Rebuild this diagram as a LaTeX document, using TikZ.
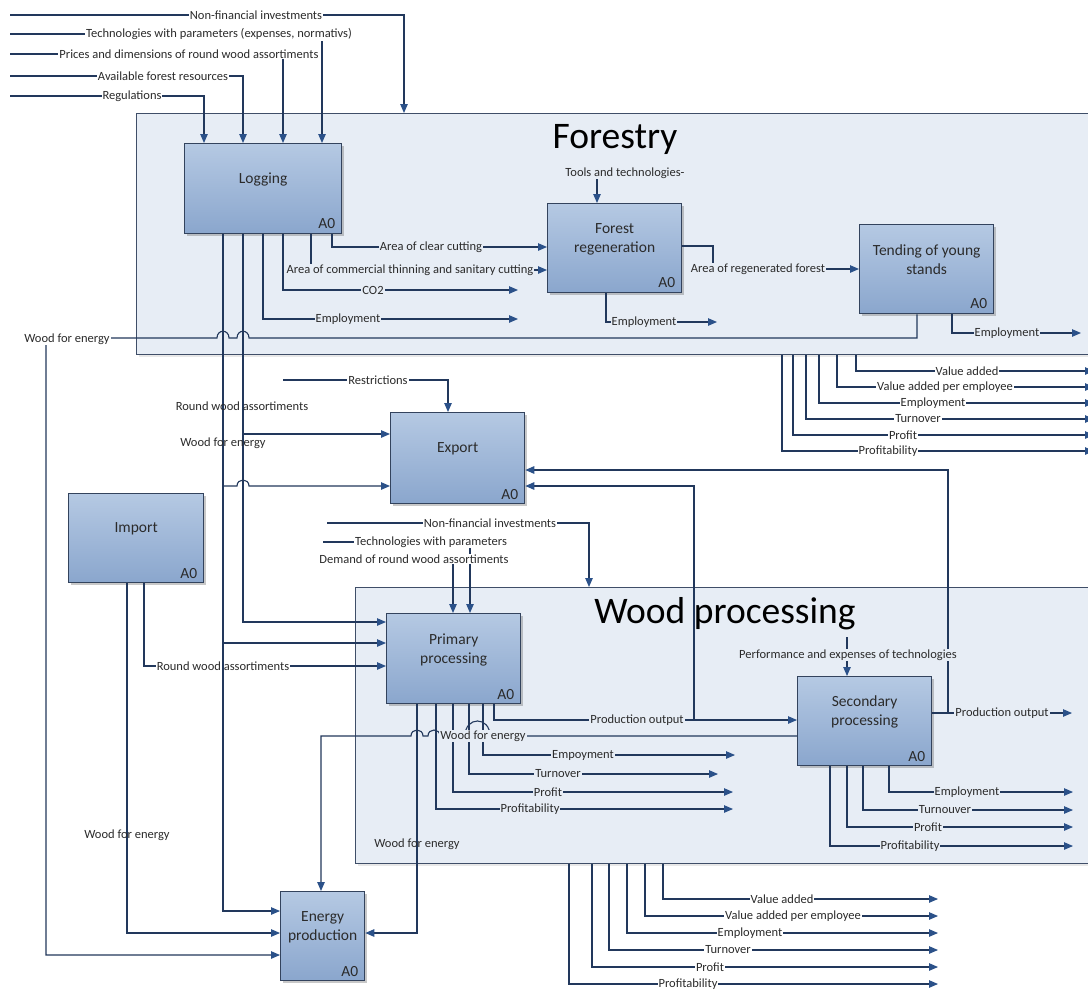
\documentclass[tikz,border=0pt]{standalone}
\usepackage{fontspec}
\setmainfont{Carlito}
\usetikzlibrary{arrows.meta,shadows}
\definecolor{linec}{HTML}{22385C}
\definecolor{arrc}{HTML}{2B5189}
\definecolor{boxtop}{HTML}{B5C9E3}
\definecolor{boxbot}{HTML}{8AA6CD}
\definecolor{boxedge}{HTML}{33435D}
\definecolor{framebg}{HTML}{E7EDF5}
\definecolor{frameedge}{HTML}{3F4E68}
\definecolor{txt}{HTML}{2B2B2B}
\tikzset{
  flow/.style={draw=linec, line width=1.1pt, -{Triangle[length=9pt,width=7.5pt,color=arrc]}},
  wire/.style={draw=linec, line width=1.1pt},
  lab/.style={font=\fontsize{12.5}{14}\selectfont, text=txt, fill=white, inner sep=1pt},
  labin/.style={lab, fill=framebg},
  labbare/.style={lab, fill=none},
  procbox/.style={draw=boxedge, line width=1.3pt, top color=boxtop, bottom color=boxbot, inner sep=0pt, anchor=north west,
     drop shadow={shadow xshift=2.5pt, shadow yshift=-2.5pt, opacity=0.3, fill=black!70}},
  ideframe/.style={draw=frameedge, line width=1.4pt, fill=framebg, inner sep=0pt, anchor=north west,
     drop shadow={shadow xshift=2pt, shadow yshift=-2pt, opacity=0.15, fill=black!60}},
  boxtext/.style={font=\fontsize{15.5}{19}\selectfont, text=txt, align=center, inner sep=0pt},
  aozero/.style={font=\fontsize{15.5}{19}\selectfont, text=txt, inner sep=0pt, anchor=south east},
  bigtitle/.style={font=\fontsize{37.5}{40}\selectfont, text=black, inner sep=0pt, anchor=base},
}
\begin{document}
\begin{tikzpicture}[x=1pt,y=-1pt]
\fill[white] (0,0) rectangle (1088,991);
\begin{scope}
\clip (0,0) rectangle (1088,991);
% frames
\node[ideframe, minimum width=980pt, minimum height=241pt] (forestry) at (136,113) {};
\node[ideframe, minimum width=760pt, minimum height=276pt] (woodproc) at (355,587) {};
\node[bigtitle] (ftitle) at (615,148) {Forestry};
\node[bigtitle] (wtitle) at (725,623) {Wood processing};
% boxes
\node[procbox, minimum width=157pt, minimum height=90pt] (logging) at (184,143) {};
\node[procbox, minimum width=134pt, minimum height=89pt] (regen) at (547,203) {};
\node[procbox, minimum width=134pt, minimum height=89pt] (tending) at (859,224) {};
\node[procbox, minimum width=134pt, minimum height=91pt] (export) at (390,412) {};
\node[procbox, minimum width=135pt, minimum height=89pt] (import) at (68,493) {};
\node[procbox, minimum width=134pt, minimum height=90pt] (primary) at (386,613) {};
\node[procbox, minimum width=134pt, minimum height=89pt] (secondary) at (797,676) {};
\node[procbox, minimum width=84pt, minimum height=89pt] (energy) at (280,891) {};
\foreach \b/\t in {logging/Logging, regen/{Forest\\regeneration}, tending/{Tending of young\\stands}, export/Export, import/Import, primary/{Primary\\processing}, secondary/{Secondary\\processing}, energy/{Energy\\production}}{
  \node[boxtext] (t\b) at ([yshift=9pt]\b.center) {\t};
  \node[aozero] (a\b) at ([xshift=-7pt,yshift=5pt]\b.south east) {A0};
}
% ---------------- forestry inputs
\coordinate (iNF) at (10,15);
\coordinate (iTech) at (10,34);
\coordinate (iPrice) at (10,54);
\coordinate (iAvail) at (10,76);
\coordinate (iReg) at (10,96);
\draw[flow] (iNF) -| (forestry.north -| 404,0);
\draw[flow] (iTech) -| (logging.north -| 322,0);
\draw[flow] (iPrice) -| (logging.north -| 283,0);
\draw[flow] (iAvail) -| (logging.north -| 243,0);
\draw[flow] (iReg) -| (logging.north -| 204,0);
% logging outputs
\coordinate (oCO2) at (518,290);
\coordinate (oEmpL) at (518,319);
\draw[flow] (logging.south -| 332,0) |- (regen.west |- 0,247);
\draw[flow] (logging.south -| 311,0) |- (regen.west |- 0,270);
\draw[flow] (logging.south -| 283,0) |- (oCO2);
\draw[flow] (logging.south -| 263,0) |- (oEmpL);
% forestry wood for energy
\draw[flow] (tending.south -| 917,0) -- (917,338) -- (249,338) .. controls (249,329) and (237,329) .. (237,338) -- (229,338) .. controls (229,329) and (217,329) .. (217,338) -- (46,338) |- (energy.west |- 0,955);
% regen -> tending
\draw[flow] (regen.east |- 0,246) -- (713,246) -- (713,269) -- (tending.west |- 0,269);
\coordinate (iTools) at (597,175);
\draw[flow] (iTools) -- (regen.north -| iTools);
\coordinate (oEmpR) at (717,322);
\coordinate (oEmpT) at (1081,333);
\draw[flow] (regen.south -| 606,0) |- (oEmpR);
\draw[flow] (tending.south -| 952,0) |- (oEmpT);
% forestry outputs
\foreach \xx/\yy/\cc/\lbl in {856/371/967/Value added, 837/387/945/Value added per employee, 819/403/933/Employment, 806/419/918/Turnover, 793/435/903/Profit, 782/451/888/Profitability}{
  \coordinate (fe\xx) at (1094,\yy);
  \draw[flow] (forestry.south -| \xx,0) |- (fe\xx);
  \node[lab] (fl\xx) at (\cc,\yy) {\lbl};
}
% export inputs
\coordinate (iRestr) at (283,380);
\draw[flow] (iRestr) -| (export.north -| 448,0);
% production outputs and feedback to export
\coordinate (oProdS) at (1072,713);
\coordinate (jS) at (948,713);
\coordinate (jP) at (694,720);
\draw[flow] (secondary.east |- 0,713) -- (oProdS);
\draw[flow] (jS) |- (export.east |- 0,470);
\draw[flow] (primary.south -| 494,0) |- (secondary.west |- 0,720);
\draw[flow] (jP) |- (export.east |- 0,486);
% wood processing inputs
\coordinate (iNF2) at (327,523);
\coordinate (iTech2) at (323,542);
\coordinate (iDem) at (453,561);
\coordinate (iPerf) at (847,637);
\draw[flow] (iNF2) -| (woodproc.north -| 589,0);
\draw[flow] (iTech2) -| (primary.north -| 470,0);
\draw[flow] (iDem) -- (primary.north -| iDem);
\draw[flow] (iPerf) -- (secondary.north -| iPerf);
% import
\draw[flow] (import.south -| 144,0) |- (primary.west |- 0,666);
\node[lab] (lRWimp) at (223,666) {Round wood assortiments};
\draw[flow] (import.south -| 127,0) |- (energy.west |- 0,933);
% logging trunks
\coordinate (j1) at (243,434);
\coordinate (j2) at (223,486);
\coordinate (j3) at (223,643);
\draw[flow] (logging.south -| 243,0) |- (primary.west |- 0,622);
\draw[flow] (j1) -- (export.west |- 0,434);
\draw[flow] (logging.south -| 223,0) |- (energy.west |- 0,911);
\draw[flow] (j2) -- (237,486) .. controls (237,478) and (249,478) .. (249,486) -- (export.west |- 0,486);
\draw[flow] (j3) -- (primary.west |- 0,643);
% primary outputs
\coordinate (oE1) at (735,755);
\coordinate (oT1) at (718,774);
\coordinate (oP1) at (733,792);
\coordinate (oR1) at (733,809);
\draw[flow] (primary.south -| 483,0) |- (oE1);
\draw[flow] (primary.south -| 469,0) |- (oT1);
\draw[flow] (primary.south -| 453,0) |- (oP1);
\draw[flow] (primary.south -| 436,0) |- (oR1);
\draw[flow] (primary.south -| 417,0) |- (energy.east |- 0,933);
% secondary wood for energy
\draw[flow] (secondary.west |- 0,736) -- (490,736) .. controls (490,716) and (465,716) .. (465,736) -- (440,736) .. controls (440,728) and (428,728) .. (428,736) -- (423,736) .. controls (423,728) and (411,728) .. (411,736) -- (321,736) -- (energy.north -| 321,0);
% secondary outputs
\foreach \xx/\yy/\cc/\lbl in {889/792/967/Employment, 863/810/945/Turnouver, 847/827/928/Profit, 830/846/910/Profitability}{
  \coordinate (se\xx) at (1073,\yy);
  \draw[flow] (secondary.south -| \xx,0) |- (se\xx);
  \node[labin] (sl\xx) at (\cc,\yy) {\lbl};
}
% wood processing outputs
\foreach \xx/\yy/\cc/\lbl in {663/899/782/Value added, 645/916/793/Value added per employee, 627/933/750/Employment, 609/950/728/Turnover, 592/967/710/Profit, 569/984/688/Profitability}{
  \coordinate (we\xx) at (938,\yy);
  \draw[flow] (woodproc.south -| \xx,0) |- (we\xx);
  \node[lab] (wl\xx) at (\cc,\yy) {\lbl};
}
% ---------------- labels
\node[lab] (lNF) at (256,15) {Non-financial investments};
\node[lab] (lTech) at (219,34) {Technologies with parameters (expenses, normativs)};
\node[lab] (lPrice) at (189,54) {Prices and dimensions of round wood assortiments};
\node[lab] (lAvail) at (163,76) {Available forest resources};
\node[lab] (lReg) at (132,96) {Regulations};
\node[lab] (lWfE1) at (67,339) {Wood for energy};
\node[lab] (lRestr) at (378,380) {Restrictions};
\node[lab] (lNF2) at (490,523) {Non-financial investments};
\node[lab] (lTech2) at (431,542) {Technologies with parameters};
\node[lab] (lDem) at (414,559) {Demand of round wood assortiments};
\node[labin] (lClear) at (431,247) {Area of clear cutting};
\node[labin] (lThin) at (410,270) {Area of commercial thinning and sanitary cutting};
\node[labin] (lCO2) at (373,290) {CO2};
\node[labin] (lEmpL) at (348,319) {Employment};
\node[labin] (lTools) at (625,173) {Tools and technologies-};
\node[labin] (lRegen) at (758,269) {Area of regenerated forest};
\node[labin] (lEmpR) at (644,322) {Employment};
\node[labin] (lEmpT) at (1007,333) {Employment};
\node[labin] (lProdP) at (637,720) {Production output};
\node[labin] (lProdS) at (1002,713) {Production output};
\node[labin] (lWfE2) at (483,736) {Wood for energy};
\node[labin] (lE1) at (583,755) {Empoyment};
\node[labin] (lT1) at (558,774) {Turnover};
\node[labin] (lP1) at (548,792) {Profit};
\node[labin] (lR1) at (530,809) {Profitability};
\node[labin] (lPerf) at (848,655) {Performance and expenses of technologies};
\node[labbare] (lRW) at (242,406) {Round wood assortiments};
\node[labbare] (lWfE3) at (223,443) {Wood for energy};
\node[labbare] (lWfE4) at (127,835) {Wood for energy};
\node[labbare] (lWfE5) at (417,844) {Wood for energy};
\end{scope}
\pgfresetboundingbox
\useasboundingbox (0,0) rectangle (1088,991);
\end{tikzpicture}
\end{document}
